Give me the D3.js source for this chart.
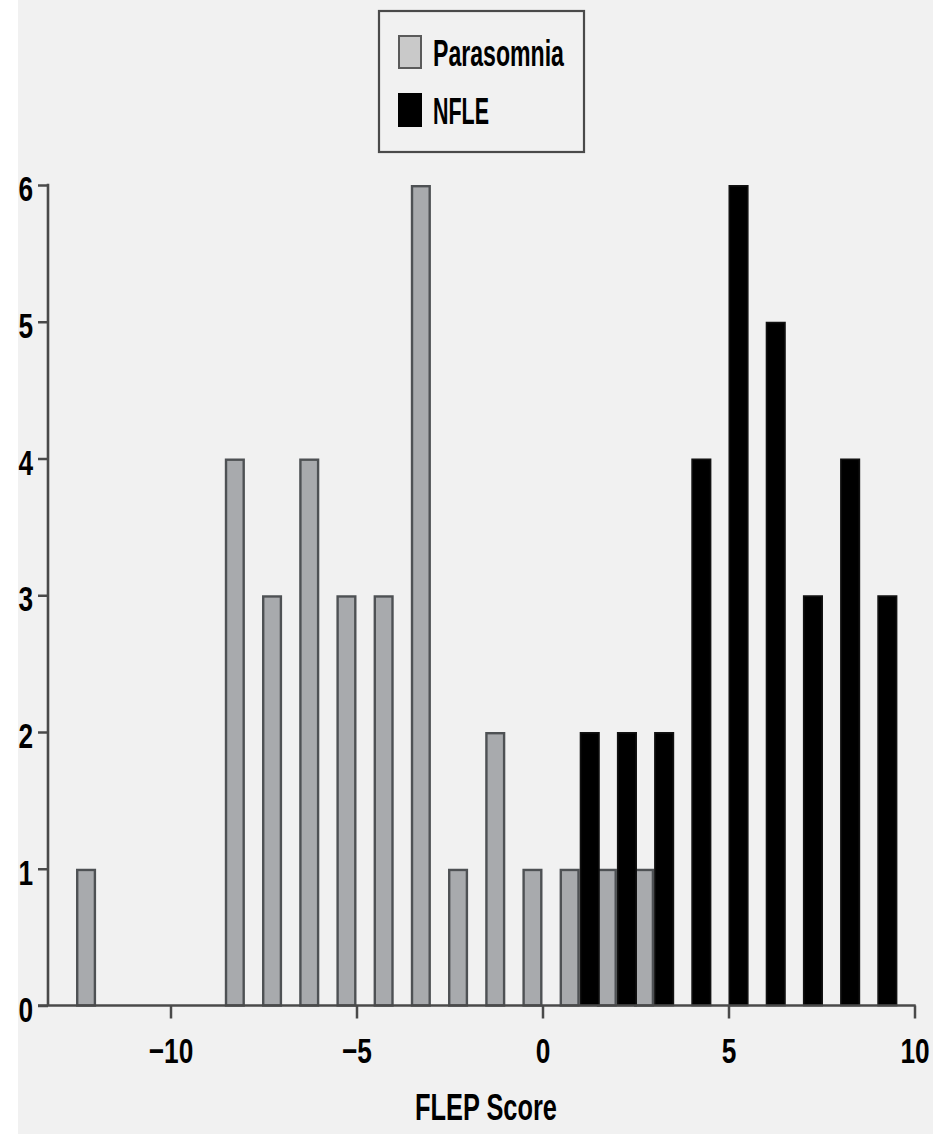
<!DOCTYPE html>
<html>
<head>
<meta charset="utf-8">
<script src="https://cdn.jsdelivr.net/npm/d3@7"></script>
<style>
  html, body { margin: 0; padding: 0; background: #ffffff; overflow: hidden; }
  svg { display: block; }
  text { font-family: "Liberation Sans", Arial, sans-serif; font-weight: bold; fill: #000; }
</style>
</head>
<body>
<svg id="chart" width="933" height="1134"></svg>
<script>
// ---- data ----
const parasomniaScores = [-12, -8, -7, -6, -5, -4, -3, -2, -1, 0, 1, 2, 3];
const parasomniaCounts = [1, 4, 3, 4, 3, 3, 6, 1, 2, 1, 1, 1, 1];
const nfleScores = [1, 2, 3, 4, 5, 6, 7, 8, 9];
const nfleCounts = [2, 2, 2, 4, 6, 5, 3, 4, 3];
const xTickValues = [-10, -5, 0, 5, 10];
const yTickValues = [0, 1, 2, 3, 4, 5, 6];
const seriesNames = ["Parasomnia", "NFLE"];
const xTitle = "FLEP Score";

// ---- layout ----
const svg = d3.select("#chart");
const W = 933, H = 1134;
const barW = 0.54; // in score units
const condense = 0.75;

svg.append("rect").attr("x", 18).attr("y", 0).attr("width", W - 18).attr("height", H).attr("fill", "#f1f1f1");

const x = d3.scaleLinear().domain([-10, 10]).range([170.5, 914.5]);
const y = d3.scaleLinear().domain([0, 6]).range([1005.5, 185]);
const yAxisX = 48;

const para = parasomniaScores.map((s, i) => ({ s, v: parasomniaCounts[i] }));
const nfle = nfleScores.map((s, i) => ({ s, v: nfleCounts[i] }));

// Parasomnia bars (left of the score)
svg.append("g").selectAll("rect").data(para).join("rect")
  .attr("x", d => x(d.s - barW) + 1.2)
  .attr("y", d => y(d.v) + 1.2)
  .attr("width", d => x(d.s) - x(d.s - barW) - 2.4)
  .attr("height", d => y(0) - y(d.v) - 1.2)
  .attr("fill", "#a8aaad")
  .attr("stroke", "#4e5154")
  .attr("stroke-width", 2.4);

// NFLE bars (right of the score)
svg.append("g").selectAll("rect").data(nfle).join("rect")
  .attr("x", d => x(d.s) + 0.8)
  .attr("y", d => y(d.v) + 0.8)
  .attr("width", d => x(d.s + barW) - x(d.s) - 1.6)
  .attr("height", d => y(0) - y(d.v) - 0.8)
  .attr("fill", "#000")
  .attr("stroke", "#111")
  .attr("stroke-width", 1.6);

// ---- axes ----
const axisColor = "#4a4a4a";
const xAxis = svg.append("g").attr("transform", `translate(0,${y(0)})`)
  .call(d3.axisBottom(x).tickValues(xTickValues).tickSize(13).tickSizeOuter(0).tickPadding(0));
xAxis.select(".domain").remove();
xAxis.selectAll(".tick line").attr("stroke", axisColor).attr("stroke-width", 2.5);
xAxis.selectAll(".tick text").attr("x", 0).attr("y", 58).attr("dy", null)
  .style("font-size", "35px").attr("fill", "#000");

svg.append("line").attr("x1", 38).attr("x2", x(10) + 1.2).attr("y1", y(0)).attr("y2", y(0))
  .attr("stroke", axisColor).attr("stroke-width", 2.6);

const yAxis = svg.append("g").attr("transform", `translate(${yAxisX},0)`)
  .call(d3.axisLeft(y).tickValues(yTickValues).tickSize(10).tickSizeOuter(0).tickFormat(d3.format("d")));
yAxis.select(".domain").remove();
yAxis.selectAll(".tick line").attr("stroke", axisColor).attr("stroke-width", 2.5);
yAxis.selectAll(".tick text").attr("x", -15).attr("dy", null).attr("y", 15.5)
  .style("font-size", "35px").attr("fill", "#000");

svg.append("line").attr("x1", yAxisX).attr("x2", yAxisX).attr("y1", y(6) - 1.2).attr("y2", y(0))
  .attr("stroke", axisColor).attr("stroke-width", 2.6);

// x title
svg.append("text").attr("x", 486).attr("y", 1120)
  .attr("text-anchor", "middle").style("font-size", "37px").text(xTitle)
  .attr("data-w", 142);

// ---- legend ----
const lg = svg.append("g");
lg.append("rect").attr("x", 379).attr("y", 11).attr("width", 205).attr("height", 141)
  .attr("fill", "#f1f1f1").attr("stroke", "#4a4a4a").attr("stroke-width", 2.2);
const legendItems = [
  { name: seriesNames[0], fill: "#c9c9c9", stroke: "#5a5a5a", y: 36, w: 131 },
  { name: seriesNames[1], fill: "#000", stroke: "#000", y: 94, w: 56 }
];
legendItems.forEach(it => {
  lg.append("rect").attr("x", 399).attr("y", it.y).attr("width", 22).attr("height", 32)
    .attr("fill", it.fill).attr("stroke", it.stroke).attr("stroke-width", 2);
  lg.append("text").attr("x", 433).attr("y", it.y + 30).style("font-size", "37px")
    .attr("data-w", it.w).text(it.name);
});

// condense all text horizontally about its anchor point
svg.selectAll("text").each(function () {
  const el = d3.select(this);
  const target = el.attr("data-w");
  const w = this.getComputedTextLength();
  const sx = target ? (+target / w) : condense;
  const ax = +(el.attr("x") || 0);
  el.attr("transform", `translate(${ax},0) scale(${sx},1) translate(${-ax},0)`);
});
</script>
</body>
</html>
